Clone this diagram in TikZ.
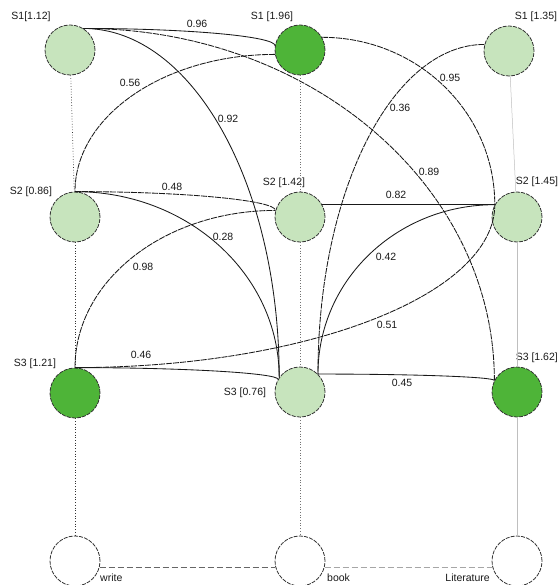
\documentclass[tikz,border=0pt]{standalone}
\usepackage{fontspec}
\setmainfont{Liberation Sans}
\definecolor{lgreen}{RGB}{199,228,189}
\definecolor{dgreen}{RGB}{78,180,56}
\begin{document}
\begin{tikzpicture}[x=1pt,y=-1pt,
  circ/.style={circle,minimum size=50pt,inner sep=0pt,draw=black!80,line width=0.8pt,dash pattern=on 4pt off 1.2pt},
  lg/.style={circ,fill=lgreen},
  dg/.style={circ,fill=dgreen},
  wn/.style={circ,fill=white},
  lbl/.style={font=\fontsize{10.5}{12}\selectfont,text=black!90,inner sep=0pt},
  wt/.style={lbl},
  edge/.style={line width=0.85pt,black!90},
  dedge/.style={edge,dash pattern=on 6pt off 1pt},
  coldot/.style={line width=0.7pt,black!80,dotted},
  colmid/.style={line width=0.7pt,black!55,dotted},
  colgray/.style={line width=0.5pt,black!25},
  bdash/.style={line width=1pt,dash pattern=on 6pt off 3pt}
]
\useasboundingbox (0,0) rectangle (559,585);

% nodes
\node[lg] (s1l) at (70,50) {};
\node[dg] (s1m) at (300,50) {};
\node[lg] (s1r) at (509,51) {};
\node[lg] (s2l) at (75,217) {};
\node[lg] (s2m) at (300,217) {};
\node[lg] (s2r) at (517,217) {};
\node[dg] (s3l) at (75,393) {};
\node[lg] (s3m) at (300,392) {};
\node[dg] (s3r) at (517,392) {};
\node[wn] (b1) at (75,561) {};
\node[wn] (b2) at (300,561) {};
\node[wn] (b3) at (517,561) {};

% node labels
\node[lbl] (t1) at (31,17) {S1[1.12]};
\node[lbl] (t2) at (272,17) {S1 [1.96]};
\node[lbl] (t3) at (536,17) {S1 [1.35]};
\node[lbl] (t4) at (31,192) {S2 [0.86]};
\node[lbl] (t5) at (284,183) {S2 [1.42]};
\node[lbl] (t6) at (537,182) {S2 [1.45]};
\node[lbl] (t7) at (35,364) {S3 [1.21]};
\node[lbl] (t8) at (245,393) {S3 [0.76]};
\node[lbl,anchor=east] (t9) at (558,358) {S3 [1.62]};
\node[lbl,anchor=west] (l1) at (100,578) {write};
\node[lbl,anchor=west] (l2) at (327,578) {book};
\node[lbl,anchor=east] (l3) at (490,578) {Literature};

% column lines
\draw[coldot] (s1l) -- (s2l);
\draw[coldot] (s2l) -- (s3l);
\draw[coldot] (s3l) -- (b1);
\draw[colmid] (s1m) -- (s2m);
\draw[colmid] (s2m) -- (s3m);
\draw[colmid] (s3m) -- (b2);
\draw[colgray] (s1r) -- (s2r);
\draw[colgray] (s2r) -- (s3r);
\draw[colgray] (s3r) -- (b3);

% bottom links
\draw[bdash,black!60] (b1.-15) -- (b2.195);
\draw[bdash,black!35] (b2.-15) -- (b3.195);

% weighted edges
\draw[edge]  (s1l.58) .. controls +(107,0) and +(0,-9) .. (s1m.170);
\draw[dedge] (s1l.58) .. controls +(228,0) and +(0,-194) .. (s3r.153);
\draw[edge]  (s1l.58) .. controls +(109,0) and +(0,-193) .. (s3m.145);
\draw[dedge] (s1m.190) .. controls +(-110,0) and +(0,-76) .. (s2l.90);
\draw[dedge] (s1m.30) .. controls +(96,0) and +(0,-92) .. (s2r.151);
\draw[dedge] (s1r.165) .. controls +(-92,0) and +(0,-183) .. (s3m.45);
\draw[dedge] (s2l.90) .. controls +(111,0) and +(0,-10) .. (s2m.165);
\draw[edge]  (s2l.90) .. controls +(113,0) and +(0,-103) .. (s3m.145);
\draw[dedge] (s3l.90) .. controls +(0,-87) and +(-111,0) .. (s2m.165);
\draw[edge]  (s2m.29) -- (s2r.151);
\draw[edge]  (s3m.45) .. controls +(0,-94) and +(-98,0) .. (s2r.151);
\draw[dedge] (s3l.90) .. controls +(232,0) and +(0,90) .. (s2r.151);
\draw[edge]  (s3l.90) .. controls +(112,0) and +(0,-6) .. (s3m.150);
\draw[edge]  (s3m.45) .. controls +(98,0) and +(0,-3.5) .. (s3r.153);

% weight labels
\node[wt] (w96) at (197,24) {0.96};
\node[wt] (w56) at (130,83) {0.56};
\node[wt] (w92) at (228,119) {0.92};
\node[wt] (w95) at (450,78) {0.95};
\node[wt] (w36) at (400,108) {0.36};
\node[wt] (w89) at (429,172) {0.89};
\node[wt] (w48) at (172,187) {0.48};
\node[wt] (w82) at (396,195) {0.82};
\node[wt] (w28) at (223,237) {0.28};
\node[wt] (w98) at (143,267) {0.98};
\node[wt] (w42) at (386,257) {0.42};
\node[wt] (w51) at (387,325) {0.51};
\node[wt] (w46) at (141,355) {0.46};
\node[wt] (w45) at (402,383) {0.45};
\end{tikzpicture}
\end{document}
